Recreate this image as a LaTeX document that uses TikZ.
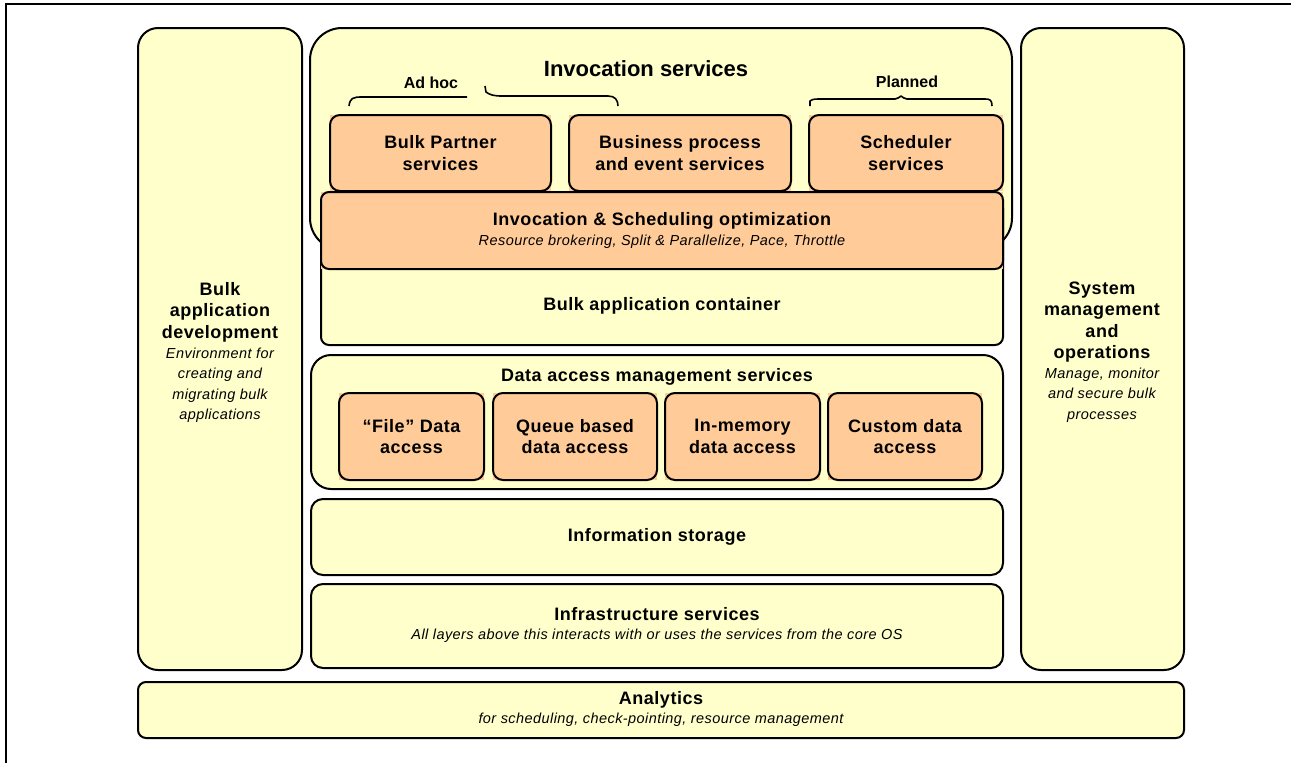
\documentclass[tikz,border=0pt]{standalone}
\usepackage{fontspec}
\setmainfont{Liberation Sans}
\definecolor{paleyellow}{HTML}{FFFFCC}
\definecolor{paleorange}{HTML}{FFCC99}
\tikzset{
  layer/.style={draw=black, line width=2pt, fill=paleyellow, rounded corners=10pt},
  title/.style={font=\bfseries\fontsize{18}{21.5}\selectfont\addfontfeature{LetterSpace=3}, align=center, inner sep=0pt},
  bigtitle/.style={font=\bfseries\fontsize{22}{26}\selectfont, inner sep=0pt},
  small/.style={font=\bfseries\fontsize{16}{19}\selectfont, inner sep=0pt},
  note/.style={font=\itshape\fontsize{14.5}{20.5}\selectfont\addfontfeature{LetterSpace=3}, align=center, inner sep=0pt},
  bracket/.style={draw=black, line width=1.6pt, line join=round}
}
% orange box: square fill behind a rounded outline
\newcommand{\orangebox}[5]{%
  \fill[paleorange] (#1,#2) rectangle (#3,#4);
  \draw[line width=2pt, rounded corners=10pt] (#1,#2) rectangle (#3,#4);
  \node[title] at ({(#1+#3)/2},{(#2+#4)/2}) {#5};
}
\begin{document}
\begin{tikzpicture}[x=1pt,y=-1pt]
\useasboundingbox (0,0) rectangle (1291,763);
% page frame
\draw[line width=1.3pt] (1291,4) -- (6,4) -- (6,763);

% side columns
\draw[layer, rounded corners=20pt] (138,28) rectangle (302,670);
\draw[layer, rounded corners=20pt] (1021,28) rectangle (1184,670);
\node[title] at (220,312) {Bulk\\application\\development};
\node[note] at (220,385) {Environment for\\creating and\\migrating bulk\\applications};
\node[title] at (1102,322) {System\\management\\and\\operations};
\node[note] at (1102,395) {Manage, monitor\\and secure bulk\\processes};

% invocation services
\draw[layer, rounded corners=32pt] (310,28) rectangle (1012,250);
\node[bigtitle] (inv) at (646,69) {Invocation services};
\node[small] (adhoc) at (431,83) {Ad hoc};
\node[small] (planned) at (907,82) {Planned};
\draw[bracket] (349,106) .. controls (350,98) and (353,97) .. (362,97) -- (467,97);
\draw[bracket] (485,86) -- (486,92) .. controls (490,95) and (494,96) .. (502,96) -- (608,96) .. controls (615,96) and (618,100) .. (618,106);
\draw[bracket] (810,106) -- (810,101) .. controls (811,100) and (813,99) .. (818,99) -- (895,99) .. controls (898,99) and (899,97) .. (901,96) .. controls (903,97) and (904,99) .. (907,99) -- (985,99) .. controls (990,99) and (992,100) .. (992,106);

\orangebox{330}{115}{551}{191}{Bulk Partner\\services}
\orangebox{569}{115}{791}{191}{Business process\\and event services}
\orangebox{809}{115}{1003}{191}{Scheduler\\services}

% bulk application container with the optimization band on top
\draw[layer, rounded corners=8pt] (321,200) rectangle (1003,345);
\node[title] (cont) at (662,306) {Bulk application container};
\fill[paleorange] (321,192) rectangle (1003,269);
\draw[line width=2pt, rounded corners=8pt] (321,192) rectangle (1003,269);
\node[title] (opt) at (662,221) {Invocation \& Scheduling optimization};
\node[note] at (662,242) {Resource brokering, Split \& Parallelize, Pace, Throttle};

% data access management
\draw[layer, rounded corners=20pt] (311,355) rectangle (1003,489);
\node[title] (dam) at (657,377) {Data access management services};
\orangebox{339}{393}{484}{480}{“File” Data\\access}
\orangebox{493}{393}{657}{480}{Queue based\\data access}
\orangebox{665}{393}{820}{480}{In-memory\\data access}
\orangebox{828}{393}{982}{480}{Custom data\\access}

% storage and infrastructure
\draw[layer, rounded corners=12pt] (311,499) rectangle (1003,575);
\node[title] (store) at (657,537) {Information storage};
\draw[layer, rounded corners=12pt] (311,584) rectangle (1003,668);
\node[title] (infra) at (657,614) {Infrastructure services};
\node[note] at (657,636) {All layers above this interacts with or uses the services from the core OS};

% analytics
\draw[layer, rounded corners=8pt] (138,682) rectangle (1184,738);
\node[title] (ana) at (661,700) {Analytics};
\node[note] at (661,720) {for scheduling, check-pointing, resource management};
\end{tikzpicture}
\end{document}
